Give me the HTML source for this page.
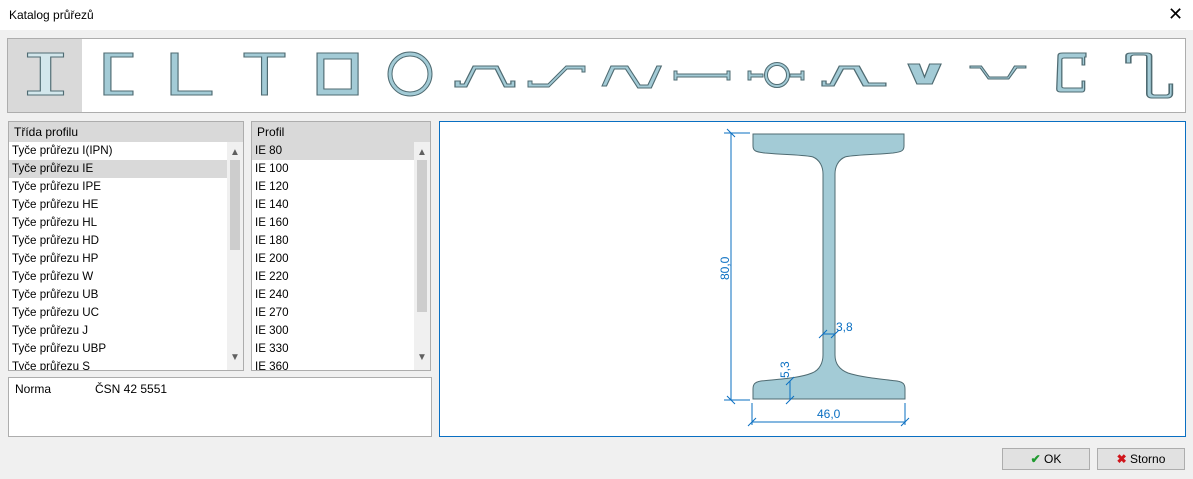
<!DOCTYPE html>
<html><head><meta charset="utf-8"><style>
body{margin:0;width:1193px;height:479px;background:#f0f0f0;font-family:"Liberation Sans",sans-serif;font-size:12px;color:#000;position:relative;overflow:hidden}
.a{position:absolute}
.title{left:0;top:0;width:1193px;height:30px;background:#fff}
.list{background:#fff;border:1px solid #adadad;box-sizing:border-box}
.hdr{position:absolute;left:0;top:0;right:0;height:20px;background:#d9d9d9;padding-left:5px;line-height:20px}
.row{position:absolute;left:2px;height:18px;line-height:18px;padding-left:1px;font-size:11.6px}
.sb{position:absolute;width:16px;background:#f0f0f0}
.btn{background:#e1e1e1;border:1px solid #adadad;box-sizing:border-box;text-align:center;line-height:20px}
</style></head><body>
<div class="a title"></div>
<div class="a" style="left:9px;top:8px">Katalog průřezů</div>
<div class="a" style="left:1168px;top:4px;font-size:18px">✕</div>

<div class="a" style="left:7px;top:38px;width:1179px;height:75px;background:#fff;border:1px solid #adadad;box-sizing:border-box"></div>
<div class="a" style="left:8px;top:39px;width:74px;height:73px;background:#d9d9d9"></div>
<svg class="a" style="left:0;top:0" width="1193" height="120" fill="#a3cbd6" stroke="#4f6b72" stroke-width="1">
<path transform="matrix(1.16,0,0,1,-0.3,0)" d="M24 53h31v4h-11v34h11v4h-31v-4h11v-34h-11z" fill="#d3e7ec"/>
<path transform="matrix(1.16,0,0,1,-1.6,0)" d="M91 53h25v4h-19v34h19v4h-25z"/>
<path transform="matrix(1.17,0,0,1,-3.3,0)" d="M149 53h6v38h29v4h-35z"/>
<path transform="matrix(1.17,0,0,1,-5.2,0)" d="M213 53h35v4h-15v38h-5v-38h-15z"/>
<path transform="matrix(1.14,0,0,1,2.4,0)" d="M276 53h36v42h-36z M282 59v30h24v-30z" fill-rule="evenodd"/>
<ellipse cx="410" cy="74" rx="20" ry="20" fill="none" stroke="#4f6b72" stroke-width="5"/>
<ellipse cx="410" cy="74" rx="20" ry="20" fill="none" stroke="#a3cbd6" stroke-width="3"/>
<path transform="matrix(1.3,0,0,1,-61.1,0)" d="M397 81h4v3h3l7-18h19l7 18h3v-3h3v6h-8l-7-18h-15l-7 18h-9z"/>
<path transform="translate(67,0)" d="M461 81h4v3h16l18-18h19v6h-3v-3h-15l-18 18h-21z"/>
<path transform="matrix(1.12,0,0,1,-70,0)" d="M600 86l8-20h15l11 19h7l8-19h4l-9 22h-12l-11-19h-10l-7 17z"/>
<path d="M674 71h3v3h50v-3h3v9h-3v-3h-50v3h-3z"/>
<path d="M748 71h3v3h12v3h-12v3h-3z M790 74h11v-3h3v9h-3v-3h-11z"/>
<circle cx="777" cy="75" r="11" fill="none" stroke="#4f6b72" stroke-width="4"/><circle cx="777" cy="75" r="11" fill="none" stroke="#a3cbd6" stroke-width="2"/>
<path transform="matrix(1.33,0,0,1,-243.3,0)" d="M801 86v-5h3v3h3l7-18h15l7 17h13v3h-17l-7-17h-8l-7 17z"/>
<path transform="matrix(1.27,0,0,1,-204.5,0)" d="M876 64h9l4 13l4-13h9l-7 20h-12z"/>
<path transform="matrix(1.14,0,0,1,-78.8,0)" d="M920 66h10l7 11h16l6-11h10v2h-8l-7 11h-18l-7-11h-9z"/>
<path transform="matrix(1.27,0,0,1,-215.8,0)" d="M1003 56c0-3 2-3 4-3h18v4h-1v8h-2v-7h-14c-2 0-2 1-2 2v26c0 1 0 2 2 2h14v-7h2v8c0 1 0 3-2 3h-17c-2 0-3-1-3-3z"/>
<path transform="matrix(1.6,0,0,1,-574.8,0)" d="M1063 56c0-3 2-3 4-3h9c2 0 3 1 3 3v37c0 1 1 2 2 2h7c1 0 2-1 2-2v-9h2v10c0 2-1 4-3 4h-10c-2 0-3-2-3-4v-37c0-1 0-2-2-2h-6c-1 0-2 1-2 2v6h-3z"/>
</svg>

<div class="a list" style="left:8px;top:121px;width:236px;height:250px;overflow:hidden">
<div class="hdr">Třída profilu</div>
<div class="a" style="left:0;top:38px;width:218px;height:18px;background:#d9d9d9"></div>
<div class="row" style="top:20px">Tyče průřezu I(IPN)</div>
<div class="row" style="top:38px">Tyče průřezu IE</div>
<div class="row" style="top:56px">Tyče průřezu IPE</div>
<div class="row" style="top:74px">Tyče průřezu HE</div>
<div class="row" style="top:92px">Tyče průřezu HL</div>
<div class="row" style="top:110px">Tyče průřezu HD</div>
<div class="row" style="top:128px">Tyče průřezu HP</div>
<div class="row" style="top:146px">Tyče průřezu W</div>
<div class="row" style="top:164px">Tyče průřezu UB</div>
<div class="row" style="top:182px">Tyče průřezu UC</div>
<div class="row" style="top:200px">Tyče průřezu J</div>
<div class="row" style="top:218px">Tyče průřezu UBP</div>
<div class="row" style="top:236px">Tyče průřezu S</div>
<div class="sb" style="left:218px;top:20px;height:228px"></div>
<div class="a" style="left:221px;top:38px;width:10px;height:90px;background:#cdcdcd"></div>
<div class="a" style="left:221px;top:25px;font-size:10px;color:#606060">▲</div>
<div class="a" style="left:221px;top:230px;font-size:10px;color:#606060">▼</div>
</div>

<div class="a list" style="left:251px;top:121px;width:180px;height:250px;overflow:hidden">
<div class="hdr">Profil</div>
<div class="a" style="left:0;top:20px;width:162px;height:18px;background:#d9d9d9"></div>
<div class="row" style="top:20px">IE 80</div><div class="row" style="top:38px">IE 100</div>
<div class="row" style="top:56px">IE 120</div><div class="row" style="top:74px">IE 140</div>
<div class="row" style="top:92px">IE 160</div><div class="row" style="top:110px">IE 180</div>
<div class="row" style="top:128px">IE 200</div><div class="row" style="top:146px">IE 220</div>
<div class="row" style="top:164px">IE 240</div><div class="row" style="top:182px">IE 270</div>
<div class="row" style="top:200px">IE 300</div><div class="row" style="top:218px">IE 330</div>
<div class="row" style="top:236px">IE 360</div>
<div class="sb" style="left:162px;top:20px;height:228px"></div>
<div class="a" style="left:165px;top:38px;width:10px;height:152px;background:#cdcdcd"></div>
<div class="a" style="left:165px;top:25px;font-size:10px;color:#606060">▲</div>
<div class="a" style="left:165px;top:230px;font-size:10px;color:#606060">▼</div>
</div>

<div class="a list" style="left:8px;top:377px;width:424px;height:60px">
<div class="a" style="left:6px;top:4px">Norma</div>
<div class="a" style="left:86px;top:4px">ČSN 42 5551</div>
</div>

<div class="a" style="left:439px;top:121px;width:747px;height:316px;background:#fff;border:1px solid #0a6fc2;box-sizing:border-box"></div>
<svg class="a" style="left:0;top:0" width="1193" height="479">
<path d="M753 134H904V146C904 151 901 152 893 153C870 155 852 155 845 157C838 160 835 167 835 174V355C835 362 838 369 848 373C860 377 880 379 897 381C903 382 905 384 905 389V399H753V389C753 384 755 382 761 381C780 379 800 378 812 373C820 370 823 362 823 355V174C823 167 820 160 813 157C806 155 788 155 765 153C756 152 753 151 753 146Z" fill="#a3cbd6" stroke="#4f6b72" stroke-width="1"/>
<g stroke="#0a6fc2" stroke-width="1" fill="none">
<path d="M731 133V400M724 133H750M724 400H750M727 129l8 8M727 396l8 8"/>
<path d="M752 403V425M905 403V425M752 422H905M748 426l8-8M901 426l8-8"/>
<path d="M823 334H835M819 338l8-8M831 338l8-8"/>
<path d="M790 381V400M786 385l8-8M786 404l8-8"/>
</g>
<g fill="#0a6fc2" font-size="12">
<text x="817" y="418">46,0</text>
<text x="836" y="331">3,8</text>
<text transform="translate(729,280) rotate(-90)">80,0</text>
<text transform="translate(789,378) rotate(-90)">5,3</text>
</g>
</svg>

<div class="a btn" style="left:1002px;top:448px;width:88px;height:22px"><span style="color:#1f9a2e;font-weight:bold">✔</span> OK</div>
<div class="a btn" style="left:1097px;top:448px;width:88px;height:22px"><span style="color:#d0151b;font-weight:bold">✖</span> Storno</div>
</body></html>
